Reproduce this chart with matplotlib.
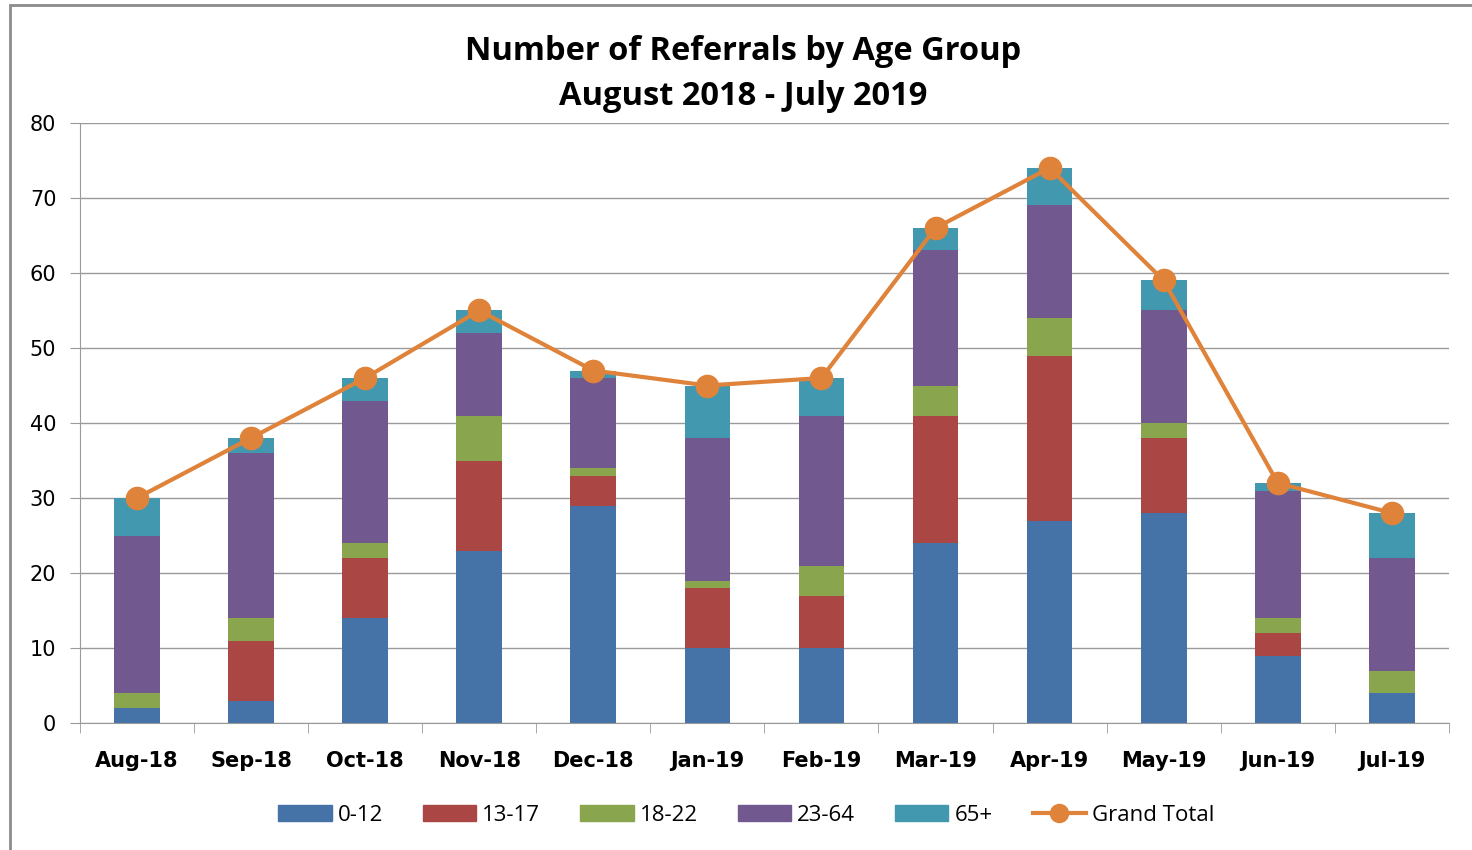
import matplotlib.pyplot as plt
import matplotlib.patches as ptc
from matplotlib.lines import Line2D
import numpy as np

months = ["Aug-18", "Sep-18", "Oct-18", "Nov-18", "Dec-18", "Jan-19",
          "Feb-19", "Mar-19", "Apr-19", "May-19", "Jun-19", "Jul-19"]
age_0_12 = [2, 3, 14, 23, 29, 10, 10, 24, 27, 28, 9, 4]
age_13_17 = [0, 8, 8, 12, 4, 8, 7, 17, 22, 10, 3, 0]
age_18_22 = [2, 3, 2, 6, 1, 1, 4, 4, 5, 2, 2, 3]
age_23_64 = [21, 22, 19, 11, 12, 19, 20, 18, 15, 15, 17, 15]
age_65_plus = [5, 2, 3, 3, 1, 7, 5, 3, 5, 4, 1, 6]
grand_total = [30, 38, 46, 55, 47, 45, 46, 66, 74, 59, 32, 28]

series = [
    ("0-12", age_0_12, "#4572A7"),
    ("13-17", age_13_17, "#AA4643"),
    ("18-22", age_18_22, "#89A54E"),
    ("23-64", age_23_64, "#71588F"),
    ("65+", age_65_plus, "#4198AF"),
]
line_color = "#E0833A"

fig = plt.figure(figsize=(14.72, 8.5), dpi=100)
ax = fig.add_axes([0.0543, 0.1494, 0.930, 0.7059])

# thin gray frame like the pasted chart
fig.patches.append(ptc.Rectangle((0.007, -0.01), 1.1, 1.004, transform=fig.transFigure,
                                 fill=False, edgecolor="#8c8c8c", linewidth=2))

x = np.arange(len(months))
bottom = np.zeros(len(months))
for label, vals, color in series:
    ax.bar(x, vals, width=0.4, bottom=bottom, color=color, label=label, zorder=2)
    bottom += np.array(vals)

ax.plot(x, grand_total, color=line_color, linewidth=3, marker="o",
        markersize=16, label="Grand Total", zorder=3)

ax.set_xlim(-0.5, len(months) - 0.5)
ax.set_ylim(0, 80)
ax.set_yticks(range(0, 81, 10))
ax.grid(axis="y", color="#9a9a9a", linewidth=1, zorder=0)
ax.set_axisbelow(True)

for side in ["top", "right"]:
    ax.spines[side].set_visible(False)
ax.spines["left"].set_color("#9a9a9a")
ax.spines["bottom"].set_color("#9a9a9a")

ax.set_xticks(x)
ax.set_xticklabels(months, fontsize=15, fontweight="bold")
ax.set_xticks(np.arange(-0.5, len(months)), minor=True)
ax.tick_params(axis="x", which="major", length=0, pad=20)
ax.tick_params(axis="x", which="minor", length=7, color="#9a9a9a")
ax.tick_params(axis="y", length=7, color="#9a9a9a", labelsize=15, pad=10)

fig.text(0.505, 0.939, "Number of Referrals by Age Group", ha="center", va="center",
         fontsize=23.5, fontweight="bold", family="Open Sans")
fig.text(0.505, 0.886, "August 2018 - July 2019", ha="center", va="center",
         fontsize=23.5, fontweight="bold", family="Open Sans")

handles = [ptc.Patch(color=c, label=l) for l, _, c in series]
handles.append(Line2D([0], [0], color=line_color, linewidth=3, marker="o",
                      markersize=13, label="Grand Total"))
fig.legend(handles=handles, loc="center", bbox_to_anchor=(0.507, 0.041), ncol=6,
           frameon=False, handlelength=2.4, handleheight=0.7,
           handletextpad=0.27, columnspacing=1.8,
           prop={"family": "Open Sans", "size": 16})

fig.savefig("out.png", dpi=100)
